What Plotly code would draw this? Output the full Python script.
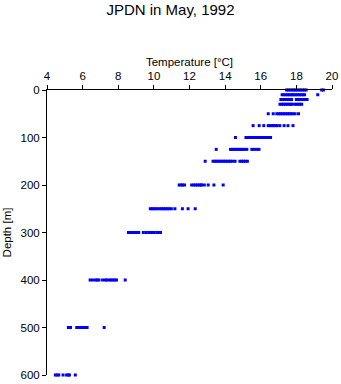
import plotly.graph_objects as go

depths = [0, 10, 20, 30, 50, 75, 100, 125, 150, 200, 250, 300, 400, 500, 600]

t_0 = [17.45, 17.55, 17.65, 17.75, 17.85, 17.95, 18.05, 18.15, 18.25, 18.35, 18.45, 18.55, 19.42, 19.52]
t_10 = [17.2, 17.3, 17.4, 17.5, 17.6, 17.7, 17.78, 17.87, 17.97, 18.07, 18.17, 18.27, 18.37, 18.46, 19.2]
t_20 = [17.13, 17.23, 17.33, 17.43, 17.53, 17.63, 17.73, 18.0, 18.1, 18.2, 18.3, 18.4, 18.5, 18.6]
t_30 = [17.08, 17.18, 17.28, 17.38, 17.48, 17.58, 17.68, 17.74, 17.9, 18.0, 18.1, 18.2, 18.3]
t_50 = [16.42, 16.7, 16.9, 17.0, 17.1, 17.2, 17.3, 17.4, 17.5, 17.6, 17.7, 17.8, 17.93, 18.12]
t_75 = [15.57, 15.91, 16.17, 16.42, 16.52, 16.62, 16.72, 16.82, 16.92, 17.07, 17.31, 17.53, 17.81]
t_100 = [14.58, 15.17, 15.27, 15.37, 15.47, 15.57, 15.67, 15.77, 15.87, 15.97, 16.07, 16.17, 16.27, 16.37, 16.47, 16.55]
t_125 = [13.5, 14.3, 14.4, 14.5, 14.6, 14.7, 14.8, 14.9, 15.0, 15.1, 15.22, 15.5, 15.65, 15.8, 15.9]
t_150 = [12.88, 13.32, 13.42, 13.52, 13.62, 13.72, 13.82, 13.92, 14.02, 14.12, 14.22, 14.3, 14.42, 14.56, 14.83, 14.93, 15.03, 15.13, 15.25]
t_200 = [11.42, 11.52, 11.61, 11.72, 12.12, 12.24, 12.34, 12.44, 12.54, 12.64, 12.68, 12.83, 13.05, 13.37, 13.89]
t_250 = [9.8, 9.9, 10.0, 10.1, 10.22, 10.35, 10.45, 10.55, 10.65, 10.75, 10.85, 10.98, 11.18, 11.6, 11.92, 12.32]
t_300 = [8.57, 8.67, 8.77, 8.87, 8.97, 9.07, 9.15, 9.41, 9.58, 9.75, 9.85, 9.95, 10.02, 10.17, 10.3, 10.37]
t_400 = [6.42, 6.55, 6.72, 6.82, 6.92, 7.12, 7.28, 7.35, 7.5, 7.6, 7.7, 7.8, 7.9, 8.39]
t_500 = [5.2, 5.32, 5.67, 5.77, 5.87, 5.97, 6.07, 6.17, 6.25, 7.21]
t_600 = [4.47, 4.57, 4.66, 4.9, 5.1, 5.2, 5.26, 5.59]

temps = [t_0, t_10, t_20, t_30, t_50, t_75, t_100, t_125, t_150,
         t_200, t_250, t_300, t_400, t_500, t_600]

x_ticks = [4, 6, 8, 10, 12, 14, 16, 18, 20]
y_ticks = [0, 100, 200, 300, 400, 500, 600]

xs, ys = [], []
for d, tl in zip(depths, temps):
    xs.extend(tl)
    ys.extend([d] * len(tl))

fig = go.Figure(go.Scatter(
    x=xs, y=ys, mode="markers",
    marker=dict(symbol="square", size=3, color="#0000ff", line=dict(width=0)),
    cliponaxis=False, hoverinfo="skip",
))

font = "Liberation Sans, Arial, Helvetica, sans-serif"
fig.update_layout(
    width=341, height=384,
    margin=dict(l=47, r=9, t=90, b=9, autoexpand=False),
    paper_bgcolor="white", plot_bgcolor="white",
    showlegend=False,
    font=dict(family=font, size=11.5, color="black"),
    title=dict(text="JPDN in May, 1992", x=0.5, xanchor="center",
               yref="container", y=1, yanchor="top", pad=dict(t=4),
               font=dict(size=15, family=font, color="black")),
    xaxis=dict(
        side="top", range=[4, 20], tickvals=x_ticks, ticktext=[str(v) for v in x_ticks],
        showgrid=False, zeroline=False, showline=True, linecolor="black", linewidth=1,
        ticks="outside", ticklen=4, tickcolor="black", tickwidth=1, automargin=False,
        title=dict(text="Temperature [°C]", standoff=1, font=dict(size=11.5)),
        tickfont=dict(size=11.5),
    ),
    yaxis=dict(
        range=[600, 0], tickvals=y_ticks, ticktext=[str(v) for v in y_ticks],
        showgrid=False, zeroline=False, showline=True, linecolor="black", linewidth=1,
        ticks="outside", ticklen=4, tickcolor="black", tickwidth=1, automargin=False,
        title=dict(text="Depth [m]", standoff=6, font=dict(size=11.5)),
        tickfont=dict(size=11.5),
    ),
)

fig.write_html("out.html")
